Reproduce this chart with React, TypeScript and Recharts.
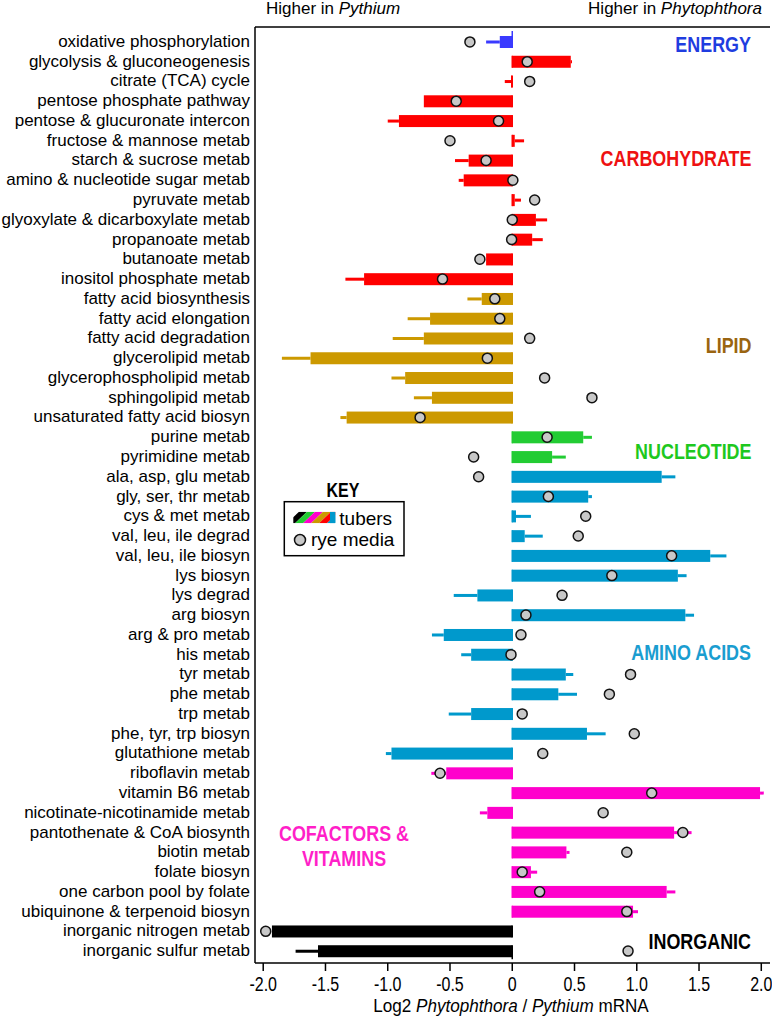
import React from 'react';
import { ComposedChart, Bar, Line, XAxis, YAxis, ErrorBar } from 'recharts';

const categories = [
  'oxidative phosphorylation',
  'glycolysis & gluconeogenesis',
  'citrate (TCA) cycle',
  'pentose phosphate pathway',
  'pentose & glucuronate intercon',
  'fructose & mannose metab',
  'starch & sucrose metab',
  'amino & nucleotide sugar metab',
  'pyruvate metab',
  'glyoxylate & dicarboxylate metab',
  'propanoate metab',
  'butanoate metab',
  'inositol phosphate metab',
  'fatty acid biosynthesis',
  'fatty acid elongation',
  'fatty acid degradation',
  'glycerolipid metab',
  'glycerophospholipid metab',
  'sphingolipid metab',
  'unsaturated fatty acid biosyn',
  'purine metab',
  'pyrimidine metab',
  'ala, asp, glu metab',
  'gly, ser, thr metab',
  'cys & met metab',
  'val, leu, ile degrad',
  'val, leu, ile biosyn',
  'lys biosyn',
  'lys degrad',
  'arg biosyn',
  'arg & pro metab',
  'his metab',
  'tyr metab',
  'phe metab',
  'trp metab',
  'phe, tyr, trp biosyn',
  'glutathione metab',
  'riboflavin metab',
  'vitamin B6 metab',
  'nicotinate-nicotinamide metab',
  'pantothenate & CoA biosynth',
  'biotin metab',
  'folate biosyn',
  'one carbon pool by folate',
  'ubiquinone & terpenoid biosyn',
  'inorganic nitrogen metab',
  'inorganic sulfur metab',
];

const groups = [
  'energy',
  'carbohydrate', 'carbohydrate', 'carbohydrate', 'carbohydrate', 'carbohydrate', 'carbohydrate',
  'carbohydrate', 'carbohydrate', 'carbohydrate', 'carbohydrate', 'carbohydrate', 'carbohydrate',
  'lipid', 'lipid', 'lipid', 'lipid', 'lipid', 'lipid', 'lipid',
  'nucleotide', 'nucleotide',
  'amino', 'amino', 'amino', 'amino', 'amino', 'amino', 'amino', 'amino',
  'amino', 'amino', 'amino', 'amino', 'amino', 'amino', 'amino',
  'cofactor', 'cofactor', 'cofactor', 'cofactor', 'cofactor', 'cofactor', 'cofactor', 'cofactor',
  'inorganic', 'inorganic',
];

// tubers: bar value, and where the error line ends (null = none visible)
const tuberValues = [
  -0.10,
  0.47, -0.01, -0.71, -0.91, 0.02, -0.35, -0.39, 0.02, 0.19, 0.16, -0.21, -1.19,
  -0.245, -0.66, -0.71, -1.62, -0.86, -0.645, -1.33,
  0.57, 0.32,
  1.20, 0.61, 0.03, 0.10, 1.59, 1.33, -0.28, 1.39, -0.55, -0.33, 0.43, 0.37, -0.33, 0.60, -0.97,
  -0.53, 1.99, -0.20, 1.30, 0.435, 0.15, 1.24, 0.97,
  -1.93, -1.56,
];

const tuberErrorEnds: (number | null)[] = [
  -0.21,
  0.48, -0.06, null, -1.00, 0.095, -0.46, -0.43, 0.07, 0.28, 0.245, null, -1.34,
  -0.36, -0.84, -0.96, -1.85, -0.97, -0.79, -1.38,
  0.64, 0.43,
  1.31, 0.64, 0.15, 0.245, 1.72, 1.40, -0.47, 1.46, -0.645, -0.41, 0.49, 0.52, -0.51, 0.75, -1.015,
  -0.65, 2.02, -0.26, 1.44, 0.46, 0.20, 1.31, 1.01,
  null, -1.74,
];

// rye media dots
const ryeValues = [
  -0.34,
  0.12, 0.14, -0.45, -0.11, -0.50, -0.21, 0.005, 0.18, 0.0, -0.005, -0.26, -0.56,
  -0.14, -0.10, 0.14, -0.20, 0.26, 0.64, -0.74,
  0.28, -0.31,
  -0.27, 0.29, 0.59, 0.53, 1.28, 0.80, 0.40, 0.11, 0.07, -0.01, 0.95, 0.78, 0.08, 0.98, 0.245,
  -0.58, 1.12, 0.73, 1.37, 0.92, 0.08, 0.22, 0.92,
  -1.98, 0.93,
];

const xTicks = [-2, -1.5, -1, -0.5, 0, 0.5, 1, 1.5, 2];

const groupColors: Record<string, string> = {
  energy: '#3a3aff',
  carbohydrate: '#ff0000',
  lipid: '#cc9900',
  nucleotide: '#22cc33',
  amino: '#0099cc',
  cofactor: '#ff00cc',
  inorganic: '#000000',
};

const groupLabels = [
  { lines: ['ENERGY'], color: '#1f3de0', x: 751, y: 52.3, anchor: 'end' },
  { lines: ['CARBOHYDRATE'], color: '#ee1111', x: 751.5, y: 165.7, anchor: 'end' },
  { lines: ['LIPID'], color: '#9a6410', x: 751.5, y: 352.7, anchor: 'end' },
  { lines: ['NUCLEOTIDE'], color: '#1ec81e', x: 751.5, y: 459, anchor: 'end' },
  { lines: ['AMINO ACIDS'], color: '#1a9dd0', x: 751, y: 660, anchor: 'end' },
  { lines: ['COFACTORS &', 'VITAMINS'], color: '#ff1fc8', x: 344, y: 840.8, anchor: 'middle' },
  { lines: ['INORGANIC'], color: '#000000', x: 751, y: 949, anchor: 'end' },
];

const FONT = "'Liberation Sans', Arial, Helvetica, sans-serif";
const PAD_TOP = 5;
const PAD_BOTTOM = 2;

const data = categories.map((name, i) => {
  const v = tuberValues[i];
  const end = tuberErrorEnds[i];
  const row: Record<string, any> = { name, group: groups[i], tuber: v, rye: ryeValues[i] };
  if (end != null) {
    const mag = Math.abs(end - v);
    row[`err_${groups[i]}`] = v >= 0 ? [0, mag] : [mag, 0];
  }
  return row;
});

function TuberBar(props: any) {
  const { x, y, width, height, payload, background, index } = props;
  const color = groupColors[payload.group];
  const left = width < 0 ? x + width : x;
  const zeroX = payload.tuber < 0 && width > 0 ? x + width : x;
  let top = background ? background.y : y - 4;
  let bottom = background ? background.y + background.height : y + height + 4;
  if (index === 0) top -= PAD_TOP;
  if (index === categories.length - 1) bottom += PAD_BOTTOM;
  return (
    <g>
      <line x1={zeroX} x2={zeroX} y1={top} y2={bottom} stroke={color} strokeWidth={1.5} />
      <rect x={left} y={y} width={Math.abs(width)} height={height} fill={color} />
    </g>
  );
}

function CategoryTick(props: any) {
  const { x, y, payload } = props;
  return (
    <text x={x} y={y} dy={5} textAnchor="end" fontSize={17} fontFamily={FONT} fill="#000">
      {payload.value}
    </text>
  );
}

function ValueTick(props: any) {
  const { x, y, payload } = props;
  const v = payload.value;
  return (
    <text
      transform={`translate(${x},${y}) scale(0.8,1)`}
      textAnchor="middle"
      dy="0.71em"
      fontSize={20}
      fontFamily={FONT}
      fill="#000"
    >
      {v === 0 ? '0' : v.toFixed(1)}
    </text>
  );
}

function Annotations() {
  const stripes = ['#000000', '#22cc33', '#ff00cc', '#cc9900', '#ff0000', '#0099cc'];
  return (
    <svg
      width={772}
      height={1020}
      style={{ position: 'absolute', left: 0, top: 0, pointerEvents: 'none' }}
      fontFamily={FONT}
    >
      <text x={266} y={14} fontSize={17} fill="#000">
        Higher in <tspan fontStyle="italic">Pythium</tspan>
      </text>
      <text x={762} y={14} fontSize={17} fill="#000" textAnchor="end">
        Higher in <tspan fontStyle="italic">Phytophthora</tspan>
      </text>
      <text transform="translate(511,1012) scale(0.9,1)" fontSize={19} fill="#000" textAnchor="middle">
        Log2 <tspan fontStyle="italic">Phytophthora</tspan> / <tspan fontStyle="italic">Pythium</tspan> mRNA
      </text>

      {groupLabels.map((g) =>
        g.lines.map((line, j) => (
          <text
            key={line}
            transform={`translate(${g.x},${g.y + j * 25.2}) scale(0.815,1)`}
            textAnchor={g.anchor as any}
            fontSize={22}
            fontWeight="bold"
            fill={g.color}
          >
            {line}
          </text>
        ))
      )}

      <text transform="translate(343,497) scale(0.82,1)" textAnchor="middle" fontSize={19.5} fontWeight="bold" fill="#000">
        KEY
      </text>
      <rect x={284.3} y={501.7} width={119.7} height={54} fill="#fff" stroke="#000" strokeWidth={1.5} />
      <defs>
        <clipPath id="swatchClip">
          <rect x={293.3} y={511.7} width={42} height={11.6} />
        </clipPath>
      </defs>
      <g clipPath="url(#swatchClip)">
        {stripes.map((c, i) => {
          const x0 = 287 + i * 8;
          return (
            <polygon
              key={c}
              points={`${x0},523.3 ${x0 + 12},511.7 ${x0 + 20},511.7 ${x0 + 8},523.3`}
              fill={c}
            />
          );
        })}
        <rect x={330} y={511.7} width={6} height={11.6} fill="#0099cc" />
      </g>
      <text x={339.3} y={525} fontSize={19} fill="#000">tubers</text>
      <circle cx={300} cy={540} r={5.5} fill="#c8c8c8" stroke="#111" strokeWidth={1.5} />
      <text x={311} y={546} fontSize={19} fill="#000">rye media</text>
    </svg>
  );
}

export default function App() {
  const axisStroke = { stroke: '#000', strokeWidth: 1.5 };
  return (
    <div style={{ position: 'absolute', left: 0, top: 0, width: 772, height: 1020, background: '#fff' }}>
      <ComposedChart
        width={772}
        height={1020}
        layout="vertical"
        data={data}
        margin={{ top: 7, right: 2, bottom: 17, left: 0 }}
      >
        <XAxis
          xAxisId="bottom"
          type="number"
          domain={[-2.066, 2.07]}
          allowDataOverflow
          ticks={xTicks}
          interval={0}
          height={40}
          tickSize={8}
          tickMargin={6}
          tick={<ValueTick />}
          axisLine={axisStroke}
          tickLine={axisStroke}
        />
        <XAxis
          xAxisId="top"
          orientation="top"
          type="number"
          domain={[-2.066, 2.07]}
          allowDataOverflow
          ticks={xTicks}
          interval={0}
          height={20}
          tickSize={7}
          tick={false}
          axisLine={axisStroke}
          tickLine={axisStroke}
        />
        <YAxis
          yAxisId="left"
          type="category"
          dataKey="name"
          width={255}
          interval={0}
          tickLine={false}
          tickSize={0}
          tickMargin={5}
          tick={<CategoryTick />}
          padding={{ top: PAD_TOP, bottom: PAD_BOTTOM }}
          axisLine={axisStroke}
        />
        <YAxis
          yAxisId="right"
          orientation="right"
          type="category"
          dataKey="name"
          width={0}
          tick={false}
          tickLine={false}
          padding={{ top: PAD_TOP, bottom: PAD_BOTTOM }}
          axisLine={axisStroke}
        />
        <Bar
          xAxisId="bottom"
          yAxisId="left"
          dataKey="tuber"
          barSize={12}
          shape={<TuberBar />}
          isAnimationActive={false}
        >
          {Object.keys(groupColors).map((g) => (
            <ErrorBar
              key={g}
              dataKey={`err_${g}`}
              direction="x"
              width={0}
              stroke={groupColors[g]}
              strokeWidth={3}
              isAnimationActive={false}
            />
          ))}
        </Bar>
        <Line
          xAxisId="top"
          yAxisId="right"
          dataKey="rye"
          stroke="none"
          dot={{ r: 5, fill: '#c8c8c8', stroke: '#111', strokeWidth: 1.5 }}
          activeDot={false}
          isAnimationActive={false}
        />
      </ComposedChart>
      <Annotations />
    </div>
  );
}
